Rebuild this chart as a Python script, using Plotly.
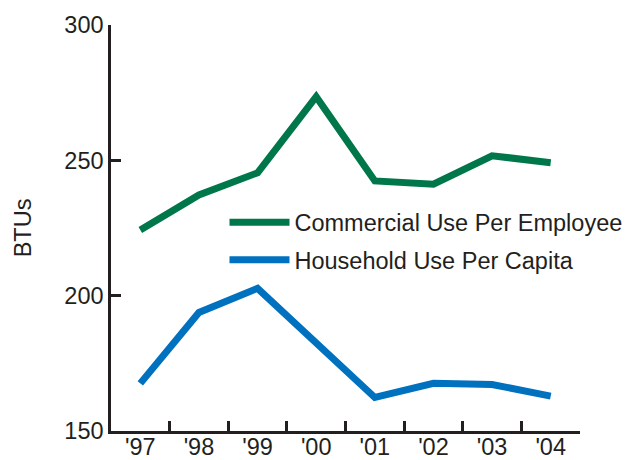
import plotly.graph_objects as go

years = ["'97", "'98", "'99", "'00", "'01", "'02", "'03", "'04"]
commercial = [224.3, 237.2, 245.4, 273.5, 242.4, 241.2, 251.7, 249.1]
household = [167.6, 193.8, 202.7, 182.4, 162.4, 167.6, 167.2, 162.9]

FONT = "Liberation Sans, Arial, sans-serif"
TXT = "#231f20"
FS = 23.5

fig = go.Figure()
fig.add_trace(go.Scatter(x=years, y=commercial, mode="lines",
                         name="Commercial Use Per Employee",
                         line=dict(color="#00774a", width=7), legendgroup="a"))
fig.add_trace(go.Scatter(x=years, y=household, mode="lines",
                         name="Household Use Per Capita",
                         line=dict(color="#0071bf", width=7), legendgroup="b"))

fig.update_layout(
    width=625, height=452,
    margin=dict(l=103, r=53, t=17, b=29, autoexpand=False),
    paper_bgcolor="white", plot_bgcolor="white",
    font=dict(family=FONT, size=FS, color=TXT),
    showlegend=True,
    legend=dict(x=0.242, y=0.568, xanchor="left", yanchor="top",
                bgcolor="rgba(0,0,0,0)", itemwidth=60,
                tracegroupgap=4, font=dict(size=FS, color=TXT)),
)
fig.update_xaxes(type="category", range=[-0.5, 7.5], showline=True,
                 linecolor="#231f20", linewidth=2.5, ticks="inside",
                 ticklen=10, tickwidth=2.5, tickcolor="#231f20",
                 tickson="boundaries", showgrid=False, zeroline=False,
                 automargin=False, ticklabelstandoff=-7,
                 tickfont=dict(size=FS, color=TXT))
fig.update_yaxes(range=[150, 300], tickvals=[150, 200, 250, 300],
                 showline=True, linecolor="#231f20", linewidth=2.5,
                 ticks="inside", ticklen=10, tickwidth=2.5,
                 tickcolor="#231f20", showgrid=False, zeroline=False,
                 automargin=False,
                 tickfont=dict(size=FS, color=TXT),
                 title=dict(text="BTUs", standoff=27,
                            font=dict(size=FS, color=TXT)))

fig.write_html("out.html")
